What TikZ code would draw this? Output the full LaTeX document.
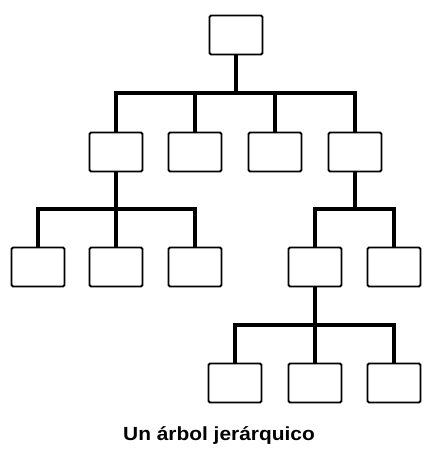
\documentclass[tikz,border=0pt]{standalone}
\usepackage{fontspec}
\setmainfont{Liberation Sans}
\begin{document}
\begin{tikzpicture}[x=1pt,y=-1pt,
  box/.style={draw,line width=1.8pt,rounded corners=1.5pt,minimum width=53pt,minimum height=39pt,inner sep=0pt},
  conn/.style={line width=3.4pt,line cap=rect}]
\useasboundingbox (0,0) rectangle (424,453);
% nodes
\node[box] (r) at (236,35) {};
\node[box] (a1) at (116,152) {};
\node[box] (a2) at (195,152) {};
\node[box] (a3) at (275,152) {};
\node[box] (a4) at (355,152) {};
\node[box] (b1) at (38,267) {};
\node[box] (b2) at (116,267) {};
\node[box] (b3) at (195,267) {};
\node[box] (b4) at (315,267) {};
\node[box] (b5) at (394,267) {};
\node[box] (c1) at (235,383) {};
\node[box] (c2) at (315,383) {};
\node[box] (c3) at (394,383) {};
\node[font=\bfseries\fontsize{19}{22}\selectfont] (cap) at (219,435) {\scalebox{1.1}[1]{Un árbol jerárquico}};
% bar levels
\coordinate (y1) at (0,93);
\coordinate (y2) at (0,209);
\coordinate (y3) at (0,325);
% connectors
\draw[conn] (r.south) -- (r.south |- y1);
\foreach \c in {a1,a2,a3,a4} \draw[conn] (r.south |- y1) -| (\c.north);
\draw[conn] (a1.south) -- (a1.south |- y2);
\foreach \c in {b1,b2,b3} \draw[conn] (a1.south |- y2) -| (\c.north);
\draw[conn] (a4.south) -- (a4.south |- y2);
\foreach \c in {b4,b5} \draw[conn] (a4.south |- y2) -| (\c.north);
\draw[conn] (b4.south) -- (b4.south |- y3);
\foreach \c in {c1,c2,c3} \draw[conn] (b4.south |- y3) -| (\c.north);
\end{tikzpicture}
\end{document}
